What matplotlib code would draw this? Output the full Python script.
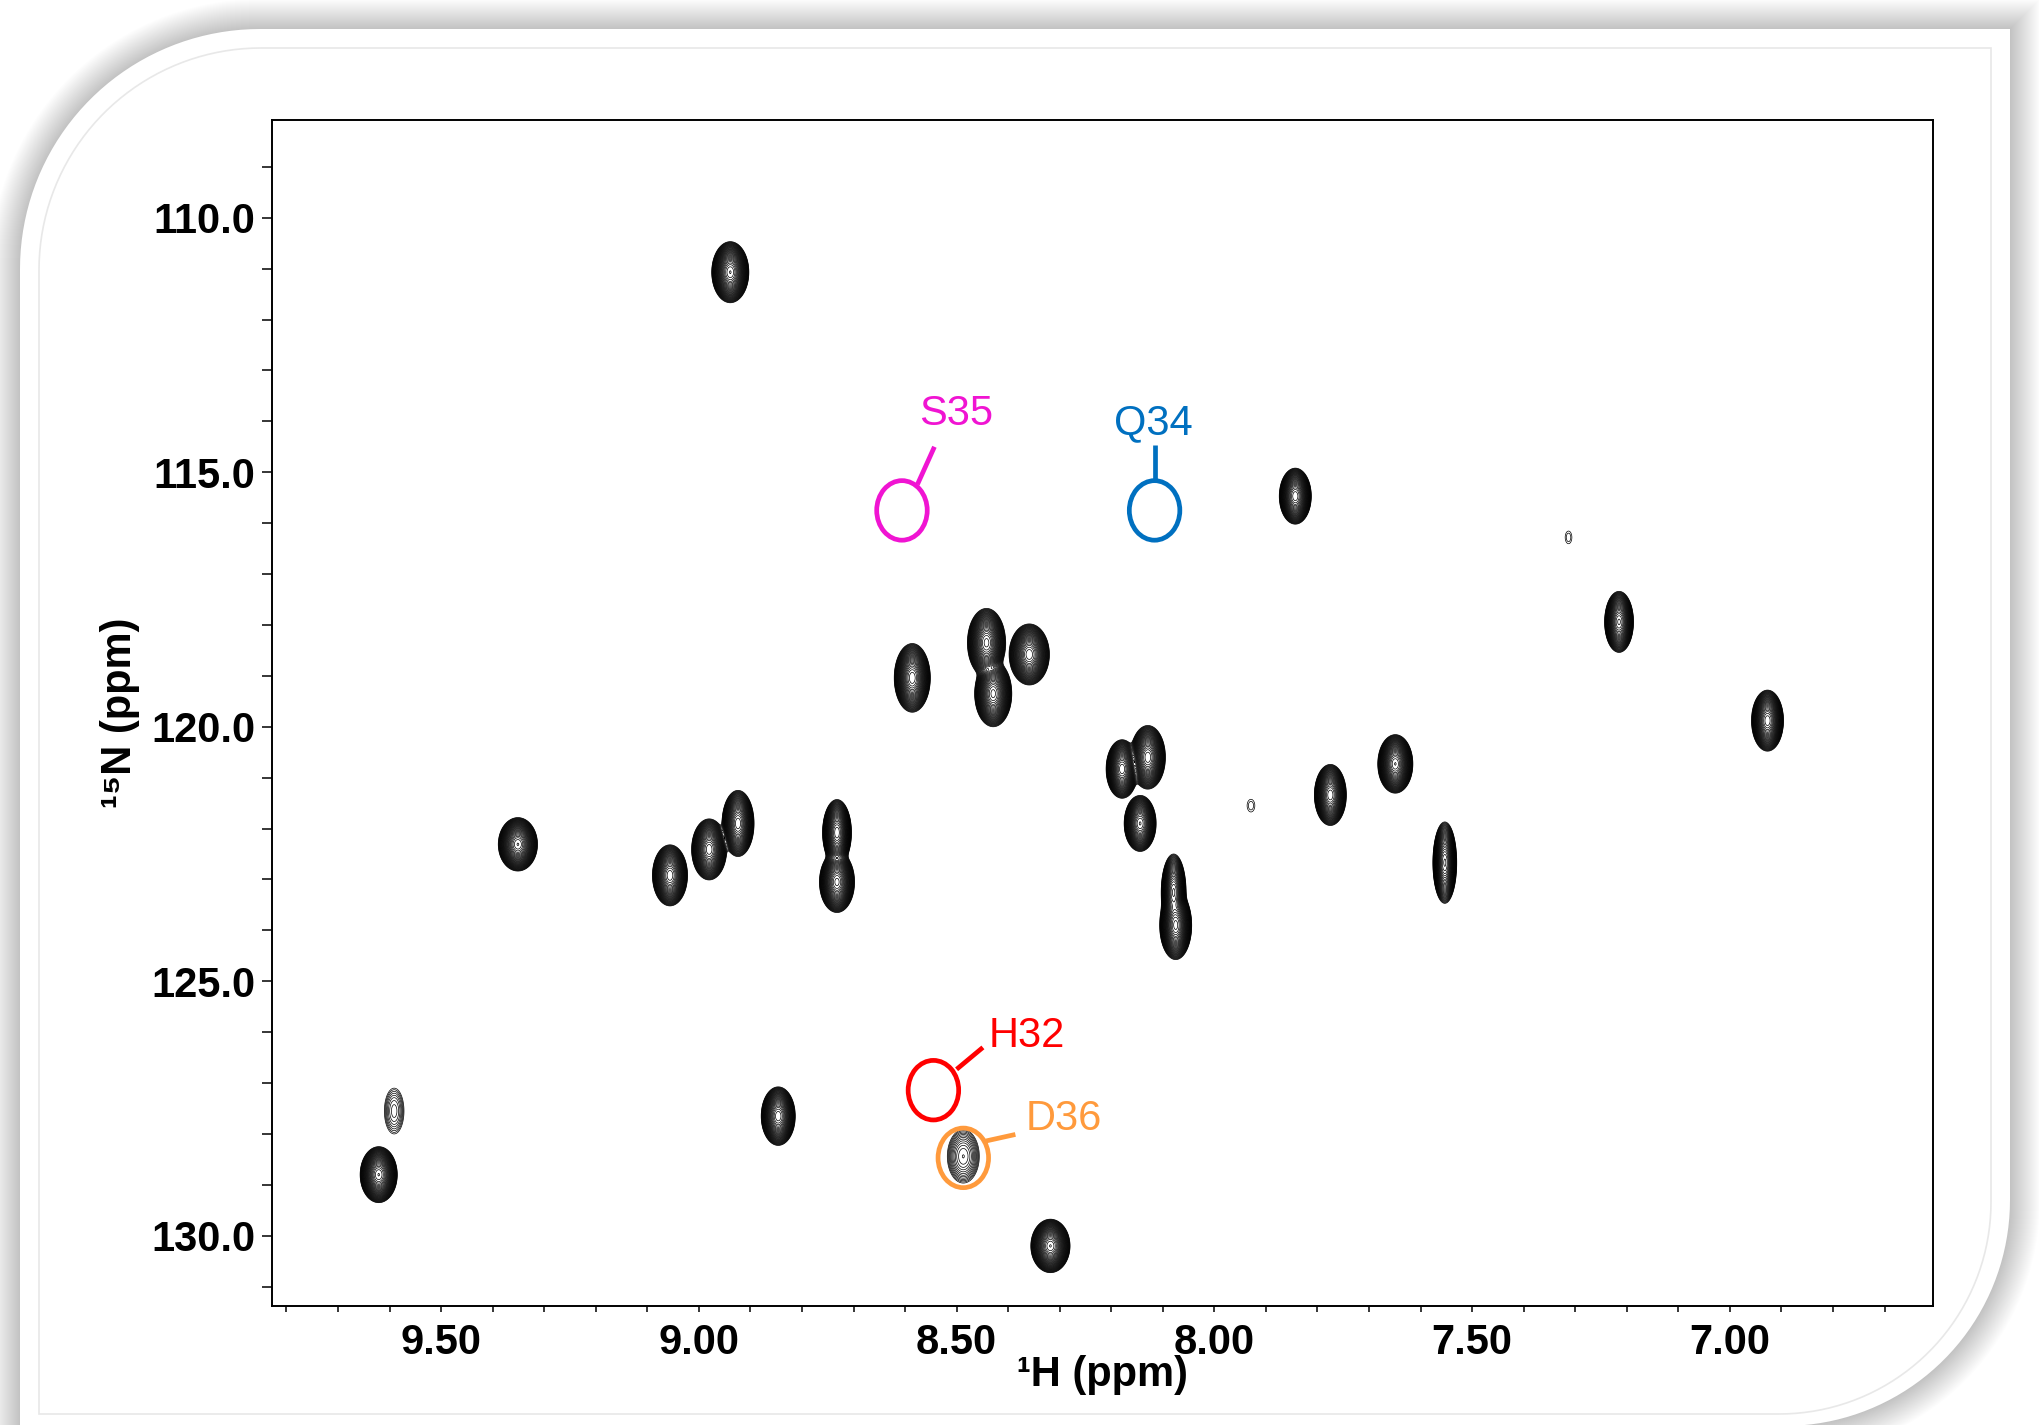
import numpy as np
import matplotlib
matplotlib.use("Agg")
import matplotlib.pyplot as plt
from matplotlib.patches import Polygon, Ellipse
from matplotlib.ticker import MultipleLocator, FormatStrFormatter

# peak list (1H ppm, 15N ppm)
peak_h = [8.939, 7.843, 7.215, 7.313, 6.927, 8.586, 8.442, 8.429, 8.359, 8.179,
          8.129, 8.144, 8.079, 8.075, 7.929, 7.775, 7.649, 7.553, 9.351, 9.056,
          8.980, 8.924, 8.732, 8.732, 9.591, 9.621, 8.846, 8.487, 8.318]
peak_n = [111.07, 115.47, 117.94, 116.28, 119.88, 119.04, 118.35, 119.35, 118.58, 120.83,
          120.60, 121.90, 123.25, 123.90, 121.55, 121.34, 120.73, 122.67, 122.31, 122.92,
          122.41, 121.90, 122.08, 123.05, 127.55, 128.80, 127.65, 128.44, 130.20]
# outer contour extent of each peak (ppm)
peak_wh = [0.072, 0.062, 0.056, 0.013, 0.062, 0.070, 0.074, 0.072, 0.078, 0.062,
           0.068, 0.062, 0.048, 0.062, 0.015, 0.062, 0.068, 0.046, 0.076, 0.068,
           0.068, 0.062, 0.056, 0.068, 0.038, 0.072, 0.066, 0.062, 0.076]
peak_wn = [1.20, 1.10, 1.20, 0.25, 1.20, 1.35, 1.35, 1.30, 1.20, 1.15,
           1.25, 1.10, 1.50, 1.35, 0.25, 1.20, 1.15, 1.60, 1.05, 1.20,
           1.20, 1.30, 1.30, 1.20, 0.90, 1.10, 1.15, 1.05, 1.05]
peak_amp = [500, 400, 300, 1.4, 400, 400, 450, 450, 400, 400,
            400, 350, 250, 450, 1.4, 400, 500, 300, 500, 400,
            400, 400, 400, 450, 4, 500, 400, 9, 500]

# assignment annotations
ann_labels = ["S35", "Q34", "H32", "D36"]
ann_colors = ["#F014D2", "#0070C0", "#FF0000", "#FF9A3C"]
ann_h = [8.606, 8.116, 8.545, 8.487]
ann_n = [115.75, 115.75, 127.14, 128.47]
line_from = [(8.576, 115.24), (8.116, 115.19), (8.500, 126.73), (8.444, 128.14)]
line_to = [(8.543, 114.50), (8.116, 114.47), (8.449, 126.30), (8.386, 128.01)]
text_xy = [(8.500, 113.86), (8.119, 114.04), (8.364, 126.07), (8.293, 127.70)]

W, H = 2040, 1425
fig = plt.figure(figsize=(W / 100, H / 100), dpi=100)


def panel(x0, y0, x1, y1, r1, r2, n=40):
    # rounded top-left and bottom-right corners, pixel coords (y down)
    pts = []
    t = np.linspace(np.pi, 1.5 * np.pi, n)
    pts += list(zip(x0 + r1 + r1 * np.cos(t), y0 + r1 + r1 * np.sin(t)))
    pts.append((x1, y0))
    t = np.linspace(0, 0.5 * np.pi, n)
    pts += list(zip(x1 - r2 + r2 * np.cos(t), y1 - r2 + r2 * np.sin(t)))
    pts.append((x0, y1))
    pts = np.array(pts)
    return np.column_stack([pts[:, 0] / W, 1 - pts[:, 1] / H])


# soft shadow then white panel
for d in range(30, 0, -1):
    fig.patches.append(Polygon(panel(20 - d, 29 - d, 2010 + d, 1426 + d, 240 + d, 226 + d),
                               closed=True, transform=fig.transFigure,
                               facecolor="black", edgecolor="none", alpha=0.0085, zorder=-10))
fig.patches.append(Polygon(panel(20, 29, 2010, 1426, 240, 226), closed=True,
                           transform=fig.transFigure, facecolor="white",
                           edgecolor="none", zorder=-9))
fig.patches.append(Polygon(panel(39, 48, 1991, 1414, 222, 212), closed=True,
                           transform=fig.transFigure, facecolor="none",
                           edgecolor="#e8e8e8", lw=1.2, zorder=-8))

ax = fig.add_axes([272 / W, 1 - 1306 / H, (1933 - 272) / W, (1306 - 120) / H])
ax.set_facecolor("none")

# build the spectrum from the peak list
xg = np.linspace(6.55, 9.90, 1900)
yg = np.linspace(107.9, 131.6, 1350)
Z = np.zeros((yg.size, xg.size))
for h, n, wh, wn, a in zip(peak_h, peak_n, peak_wh, peak_wn, peak_amp):
    k = np.sqrt(2 * np.log(a))
    sx = wh / 2 / k
    sy = wn / 2 / k
    gx = np.exp(-(xg - h) ** 2 / (2 * sx ** 2))
    gy = np.exp(-(yg - n) ** 2 / (2 * sy ** 2))
    Z += a * np.outer(gy, gx)

levels = 1.0 * 1.2 ** np.arange(0, 36)
ax.contour(xg, yg, Z, levels=levels, colors="black", linewidths=0.5)

for lab, col, h, n, p0, p1, tp in zip(ann_labels, ann_colors, ann_h, ann_n,
                                      line_from, line_to, text_xy):
    ax.add_patch(Ellipse((h, n), 0.098, 1.17, fill=False, edgecolor=col, lw=3.4, zorder=5))
    ax.plot([p0[0], p1[0]], [p0[1], p1[1]], color=col, lw=3.4, solid_capstyle="butt", zorder=5)
    ax.text(tp[0], tp[1], lab, color=col, fontsize=30, family=["Liberation Sans", "DejaVu Sans"],
            ha="center", va="center", zorder=6)

ax.set_xlim(9.828, 6.606)
ax.set_ylim(131.38, 108.08)

ax.xaxis.set_major_locator(MultipleLocator(0.5))
ax.xaxis.set_minor_locator(MultipleLocator(0.1))
ax.xaxis.set_major_formatter(FormatStrFormatter("%.2f"))
ax.yaxis.set_major_locator(MultipleLocator(5))
ax.yaxis.set_minor_locator(MultipleLocator(1))
ax.yaxis.set_major_formatter(FormatStrFormatter("%.1f"))

ax.tick_params(axis="x", which="both", direction="out", length=4, width=1.1, pad=8,
               labelsize=30)
ax.tick_params(axis="y", which="both", direction="out", length=7, width=1.1, pad=5,
               labelsize=30)
for lbl in ax.get_xticklabels() + ax.get_yticklabels():
    lbl.set_fontfamily(["Liberation Sans", "DejaVu Sans"])
    lbl.set_fontweight("bold")
for s in ax.spines.values():
    s.set_linewidth(1.4)

ax.set_xlabel("¹H (ppm)", fontsize=30, fontweight="bold",
              family=["Liberation Sans", "DejaVu Sans"])
ax.xaxis.set_label_coords(0.5, -0.058)
ax.xaxis.label.set_va("center")
ax.set_ylabel("¹⁵N (ppm)", fontsize=30, fontweight="bold",
              family=["Liberation Sans", "DejaVu Sans"])
ax.yaxis.set_label_coords(-0.0915, 0.5)
ax.yaxis.label.set_va("center")

fig.savefig("out.png", dpi=100)
